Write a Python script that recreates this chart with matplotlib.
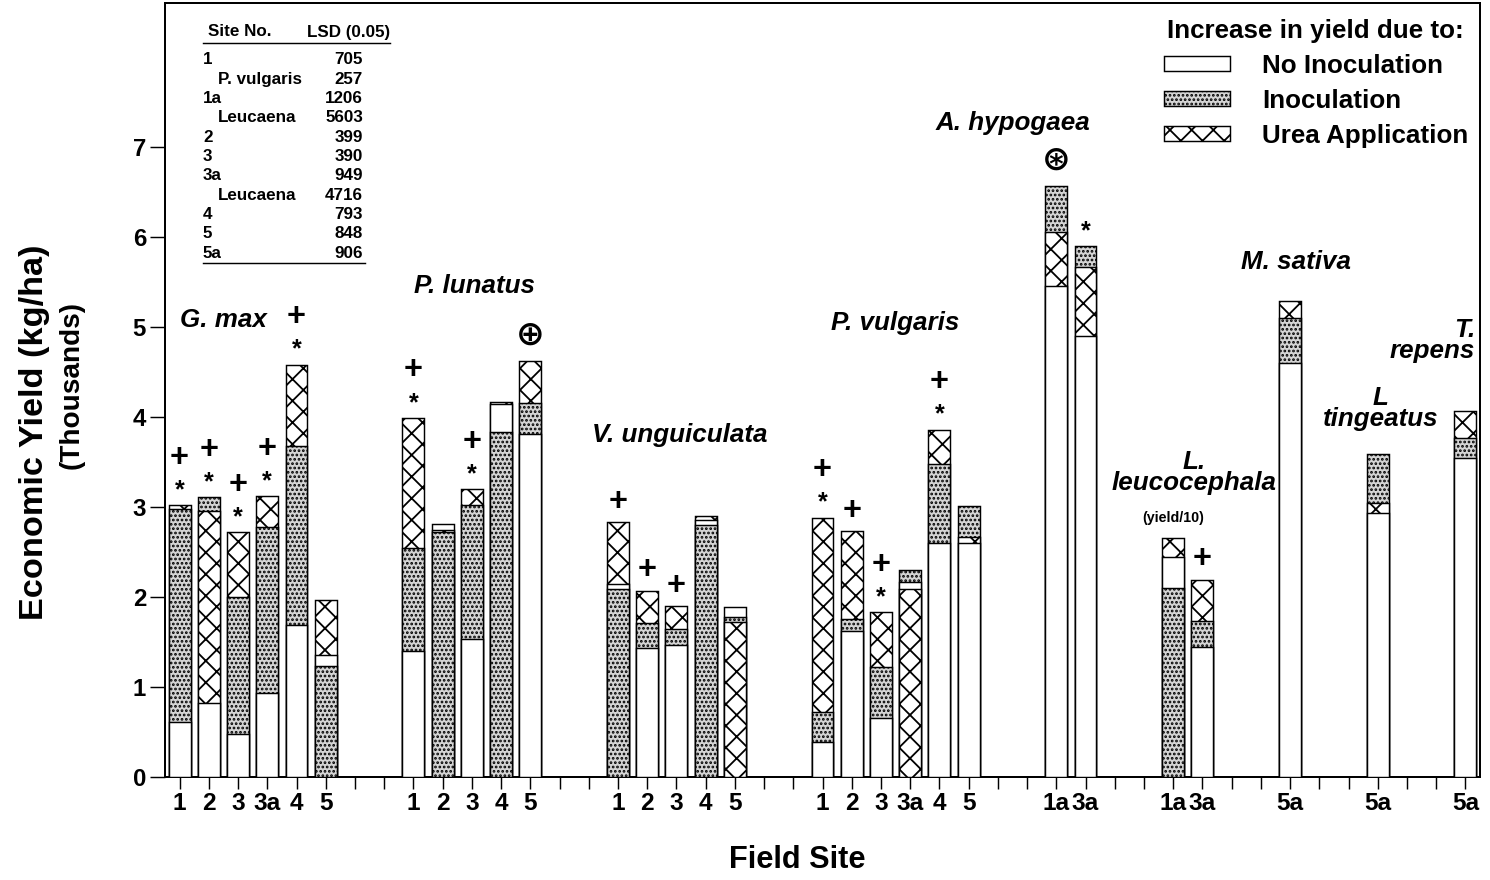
import matplotlib
matplotlib.use('Agg')
import matplotlib.pyplot as plt
from matplotlib.patches import Patch
from matplotlib.lines import Line2D

plt.rcParams['font.family'] = ['Liberation Sans', 'DejaVu Sans']
plt.rcParams['font.weight'] = 'bold'
plt.rcParams['hatch.linewidth'] = 1.0

# economic yield, thousands of kg/ha, one list per crop
species = ['G. max', 'P. lunatus', 'V. unguiculata', 'P. vulgaris', 'A. hypogaea',
           'L.\nleucocephala', 'M. sativa', 'L\ntingeatus', 'T.\nrepens']
sites = [['1', '2', '3', '3a', '4', '5'],
         ['1', '2', '3', '4', '5'],
         ['1', '2', '3', '4', '5'],
         ['1', '2', '3', '3a', '4', '5'],
         ['1a', '3a'],
         ['1a', '3a'],
         ['5a'],
         ['5a'],
         ['5a']]
no_inoc = [[0.61, 0.82, 0.48, 0.93, 1.69, 1.36],
           [1.40, 2.81, 1.53, 4.14, 3.81],
           [2.15, 1.43, 1.47, 2.86, 1.89],
           [0.39, 1.62, 0.66, 2.17, 2.60, 2.60],
           [5.46, 4.90],
           [2.44, 1.44],
           [4.60],
           [2.93],
           [3.55]]
inoc = [[2.98, 3.11, 2.00, 2.78, 3.68, 1.23],
        [2.55, 2.72, 3.02, 3.83, 4.15],
        [2.09, 1.71, 1.64, 2.80, 1.78],
        [0.72, 1.76, 1.22, 2.30, 3.48, 3.01],
        [6.57, 5.90],
        [2.10, 1.73],
        [5.10],
        [3.59],
        [3.77]]
urea = [[3.02, 2.96, 2.72, 3.12, 4.58, 1.97],
        [3.99, 2.75, 3.20, 4.17, 4.62],
        [2.83, 2.07, 1.90, 2.90, 1.72],
        [2.88, 2.73, 1.83, 2.09, 3.86, 2.67],
        [6.06, 5.67],
        [2.66, 2.19],
        [5.29],
        [3.04],
        [4.07]]
# significance marks, top symbol first
marks = [['+*', '+*', '+*', '+*', '+*', ''],
         ['+*', '', '+*', '', '\u2295'],
         ['+', '+', '+', '', ''],
         ['+*', '+', '+*', '', '+*', ''],
         ['\u229b', '*'],
         ['', '+'],
         [''], [''], ['']]

lsd_sites = ['1', 'P. vulgaris', '1a', 'Leucaena', '2', '3', '3a', 'Leucaena', '4', '5', '5a']
lsd_vals = [705, 257, 1206, 5603, 399, 390, 949, 4716, 793, 848, 906]

DPI = 130
W, H = 1490, 880
fig = plt.figure(figsize=(W / DPI, H / DPI), dpi=DPI)


def fx(px):
    return px / W


def fy(py):
    return 1 - py / H


def pt(px):
    return px * 72 / DPI


ax = fig.add_axes([fx(165), fy(777), fx(1480) - fx(165), fy(3) - fy(777)])

styles = {'ni': dict(facecolor='white'),
          'in': dict(facecolor='#d4d4d4', hatch='.....'),
          'ur': dict(facecolor='white', hatch='xx')}

pos = 0
label_at = {}
for g in range(len(species)):
    for j, site in enumerate(sites[g]):
        vals = [(no_inoc[g][j], 'ni'), (inoc[g][j], 'in'), (urea[g][j], 'ur')]
        vals.sort(key=lambda t: -t[0])
        # tallest drawn first, shorter ones laid over it
        for rank, (v, key) in enumerate(vals):
            ax.bar(pos, v, width=0.75, edgecolor='black', linewidth=0.8,
                   zorder=2 + rank, **styles[key])
        top = vals[0][0]
        for k, ch in enumerate(reversed(marks[g][j])):
            dy = 23 + 27 * k
            if ch == '*':
                dy -= 8
                fs = 14
            elif ch == '+':
                dy -= 3
                fs = 18
            else:
                dy += 2
                fs = 19
            ax.annotate(ch, (pos, top), xytext=(0, pt(dy)), textcoords='offset points',
                        ha='center', va='center', fontsize=fs, zorder=6)
        label_at[pos] = site
        pos += 1
    pos += 2

nslots = pos - 2
ax.set_xlim(-0.5, nslots - 0.5)
ax.set_ylim(0, 8.6)
ax.set_xticks(range(nslots))
ax.set_xticklabels([label_at.get(i, '') for i in range(nslots)])
ax.set_yticks(range(8))
ax.tick_params(axis='y', direction='out', length=pt(15), width=0.8, pad=pt(4), labelsize=13.3)
ax.tick_params(axis='x', direction='out', length=pt(12), width=0.8, pad=pt(3), labelsize=13.5)
for s in ax.spines.values():
    s.set_linewidth(1.1)

# crop names
sp = dict(fontsize=14.4, style='italic', va='center', linespacing=0.85)
name_xy = [(1.5, 5.08), (10.1, 5.46), (17.1, 3.80), (24.5, 5.04), (28.5, 7.27),
           (34.7, 3.38), (38.2, 5.72), (41.1, 4.09), (44.34, 4.85)]
for name, (x, y) in zip(species, name_xy):
    if name.startswith('T.'):
        ax.text(x, y, name, ha='right', multialignment='right', **sp)
    else:
        ax.text(x, y, name, ha='center', multialignment='center', **sp)
ax.text(34.0, 2.88, '(yield/10)', fontsize=7.9, ha='center', va='center')

# LSD table
tfs = 9.4
fig.text(fx(208), fy(32), 'Site No.', fontsize=tfs, ha='left', va='center')
fig.text(fx(390), fy(32), 'LSD (0.05)', fontsize=tfs, ha='right', va='center')
fig.add_artist(Line2D([fx(203), fx(390)], [fy(43), fy(43)], color='black', lw=0.8))
for i, (s, v) in enumerate(zip(lsd_sites, lsd_vals)):
    y = fy(60 + 19.3 * i)
    xl = 203 if s[0].isdigit() else 218
    fig.text(fx(xl), y, s, fontsize=tfs, ha='left', va='center')
    fig.text(fx(363), y, str(v), fontsize=tfs, ha='right', va='center')
fig.add_artist(Line2D([fx(203), fx(365)], [fy(263), fy(263)], color='black', lw=0.8))

handles = [Patch(edgecolor='black', lw=0.8, **styles['ni']),
           Patch(edgecolor='black', lw=0.8, **styles['in']),
           Patch(edgecolor='black', lw=0.8, **styles['ur'])]
leg = ax.legend(handles, ['No Inoculation', 'Inoculation', 'Urea Application'],
                title='Increase in yield due to:', loc='upper right',
                bbox_to_anchor=(fx(1468), fy(19)), bbox_transform=fig.transFigure,
                frameon=False, fontsize=14.4, title_fontsize=14.4,
                handlelength=2.54, handleheight=0.54, handletextpad=1.23,
                labelspacing=0.42, borderpad=0, borderaxespad=0)
leg.get_title().set_fontweight('bold')

fig.text(fx(35), fy(432), 'Economic Yield (kg/ha)', rotation=90, fontsize=19,
         ha='center', va='center')
fig.text(fx(72), fy(385), '(Thousands)', rotation=90, fontsize=15.5,
         ha='center', va='center')
fig.text(fx(797), fy(860), 'Field Site', fontsize=17, ha='center', va='center')

fig.savefig('out.png', dpi=DPI)
